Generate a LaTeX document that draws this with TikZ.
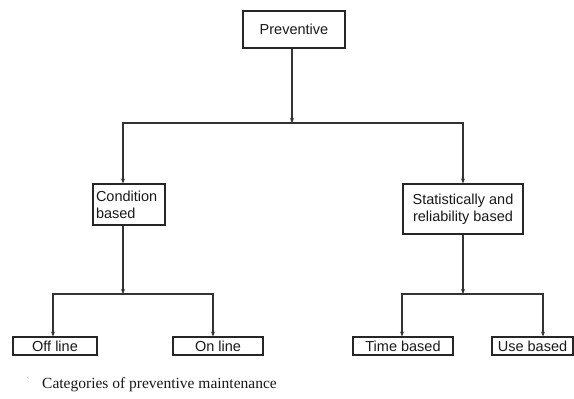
\documentclass[tikz,border=0pt]{standalone}
\usepackage{fontspec}
\setmainfont{Liberation Sans}
\newfontfamily\capfont{Liberation Serif}
\usetikzlibrary{arrows.meta}
\begin{document}
\begin{tikzpicture}[x=1pt,y=-1pt,
  box/.style={draw=black!85, line width=1.1pt, inner sep=0pt,
    font=\fontsize{14.5}{17}\selectfont, text=black!90},
  link/.style={draw=black!80, line width=1.1pt},
  tip/.style={-{Stealth[length=5pt,width=4pt]}}]
\useasboundingbox (0,0) rectangle (574,399);

% boxes
\node[box, minimum width=102pt, minimum height=37pt] (prev) at (294,29.5) {Preventive};
\node[box, minimum width=72pt, minimum height=41pt, align=left, text width=66pt] (cond) at (129,204.5) {Condition\\based};
\node[box, minimum width=120pt, minimum height=50pt, align=center] (stat) at (463,209) {Statistically and\\reliability based};
\node[box, minimum width=84pt, minimum height=18pt] (off) at (55,346) {Off line};
\node[box, minimum width=90pt, minimum height=18pt] (on) at (218,346) {On line};
\node[box, minimum width=100pt, minimum height=18pt] (time) at (403,346) {Time based};
\node[box, minimum width=81pt, minimum height=18pt] (use) at (532.5,346) {Use based};

% branch points
\coordinate (j0) at (292,123);
\coordinate (jL) at (123,294);
\coordinate (jR) at (463,294);

% connectors
\draw[link,tip] (prev.south -| j0) -- (j0);
\draw[link,tip] (j0) -| (cond.north -| jL);
\draw[link,tip] (j0) -| (stat.north -| jR);
\draw[link,tip] (cond.south -| jL) -- (jL);
\draw[link,tip] (stat.south -| jR) -- (jR);
\draw[link,tip] (jL) -| ([xshift=-2pt]off.north);
\draw[link,tip] (jL) -| ([xshift=-5pt]on.north);
\draw[link,tip] (jR) -| ([xshift=-1pt]time.north);
\draw[link,tip] (jR) -| ([xshift=10.5pt]use.north);

% caption
\node[text=black!35, font=\capfont\fontsize{10}{12}\selectfont] (mark) at (28,381) {`};
\node[anchor=west, inner sep=0pt, text=black!90, font=\capfont\fontsize{15.5}{18}\selectfont] (cap) at (42,385) {Categories of preventive maintenance};
\end{tikzpicture}
\end{document}
